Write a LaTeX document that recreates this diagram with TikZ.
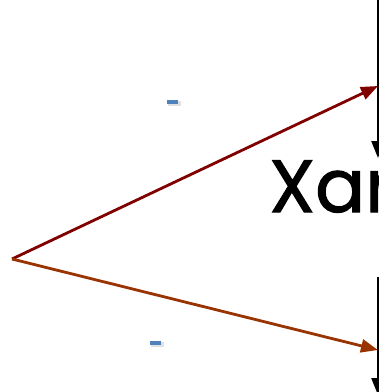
\documentclass[tikz,border=0pt]{standalone}
\usepackage{fontspec}
\newfontfamily\handfont[FakeBold=1.5]{Poppins}
\usetikzlibrary{arrows.meta}

\begin{document}
\begin{tikzpicture}[
    x=1pt, y=-1pt,
    ray/.style={
        -{Triangle[length=17pt,width=13pt]},
        line width=2.8pt
    },
    drop/.style={
        -{Triangle[length=17pt,width=13pt]},
        line width=2.4pt,
        black
    },
    marker/.style={
        fill={rgb,255:red,79;green,129;blue,189},
        minimum width=11pt,
        minimum height=4pt,
        inner sep=0pt
    }
]
\useasboundingbox (0,0) rectangle (379,392);
\clip (0,0) rectangle (379,392);

% source point and targets
\coordinate (src) at (12,259);
\coordinate (upper) at (378,86);
\coordinate (lower) at (378,350);

% vertical axes on the right
\coordinate (axtop) at (378,-10);
\coordinate (axtopend) at (378,158);
\coordinate (axbot) at (378,277);
\coordinate (axbotend) at (378,395);

\draw[drop] (axtop) -- (axtopend);
\draw[drop] (axbot) -- (axbotend);

% rays
\draw[ray, color={rgb,255:red,128;green,0;blue,0}] (src) -- (upper);
\draw[ray, color={rgb,255:red,153;green,51;blue,0}] (src) -- (lower);

% small blue marks
\fill[black!12] (168,101) rectangle (181,106);
\node[marker] (markup) at (172,102) {};
\fill[black!12] (151,342) rectangle (164,347);
\node[marker] (markdown) at (155,343) {};

% label
\node[anchor=base west, inner sep=0pt, font=\handfont\fontsize{74}{80}\selectfont] (lbl) at (269,212) {Xar};
\end{tikzpicture}
\end{document}
